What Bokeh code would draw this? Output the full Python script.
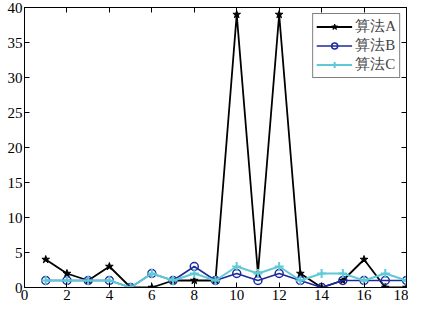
from bokeh.plotting import figure
from bokeh.models import LinearAxis, Range1d, FixedTicker, Legend, LegendItem
from bokeh.embed import file_html
from bokeh.resources import INLINE

x = list(range(1, 19))
algA = [4, 2, 1, 3, 0, 0, 1, 1, 1, 39, 2, 39, 2, 0, 1, 4, 0, 0]
algB = [1, 1, 1, 1, 0, 2, 1, 3, 1, 2, 1, 2, 1, 0, 1, 1, 1, 1]
algC = [1, 1, 1, 1, 0, 2, 1, 2, 1, 3, 2, 3, 1, 2, 2, 1, 2, 1]
names = ["算法A", "算法B", "算法C"]
xticks = list(range(0, 19, 2))
yticks = list(range(0, 41, 5))

FONT = "Liberation Serif"

p = figure(width=408, height=302, output_backend="svg", toolbar_location=None,
           x_range=Range1d(0, 18), y_range=Range1d(0, 40),
           min_border_left=24, min_border_right=2, min_border_top=7, min_border_bottom=2)
p.xgrid.visible = False
p.ygrid.visible = False
p.outline_line_color = "black"
p.outline_line_width = 1

def style(ax, ticks, labels=True):
    ax.ticker = FixedTicker(ticks=ticks)
    ax.major_tick_in = 5
    ax.major_tick_out = 0
    ax.minor_tick_line_color = None
    ax.axis_line_color = "black"
    ax.major_tick_line_color = "black"
    ax.major_label_text_font = FONT
    ax.major_label_text_font_size = "15px"
    ax.major_label_text_color = "black"
    ax.major_label_standoff = 2
    if not labels:
        ax.major_label_text_font_size = "0px"
        ax.major_label_text_color = None

style(p.xaxis[0], xticks)
style(p.yaxis[0], yticks)
ra = LinearAxis()
style(ra, yticks, labels=False)
p.add_layout(ra, "right")
ta = LinearAxis()
style(ta, xticks, labels=False)
p.add_layout(ta, "above")

la = p.line(x, algA, line_color="black", line_width=1.8)
ma = p.scatter(x, algA, marker="star", size=8, fill_color="black", line_color="black")
lb = p.line(x, algB, line_color="#1c2a9c", line_width=1.5)
mb = p.scatter(x, algB, marker="circle", size=8, fill_color=None, line_color="#1c2a9c", line_width=1.5)
lc = p.line(x, algC, line_color="#5fc9d6", line_width=2)
mc = p.scatter(x, algC, marker="cross", size=9, line_color="#5fc9d6", line_width=2)

legend = Legend(items=[LegendItem(label=names[0], renderers=[la, ma]),
                       LegendItem(label=names[1], renderers=[lb, mb]),
                       LegendItem(label=names[2], renderers=[lc, mc])],
                location="top_right")
legend.label_text_font = FONT
legend.label_text_font_size = "15px"
legend.border_line_color = "black"
legend.border_line_width = 1
legend.glyph_width = 36
legend.glyph_height = 15
legend.label_height = 15
legend.spacing = 0
legend.padding = 3
legend.margin = 6
legend.label_standoff = 3
p.add_layout(legend, "center")

open("out.html", "w").write(file_html(p, INLINE))
